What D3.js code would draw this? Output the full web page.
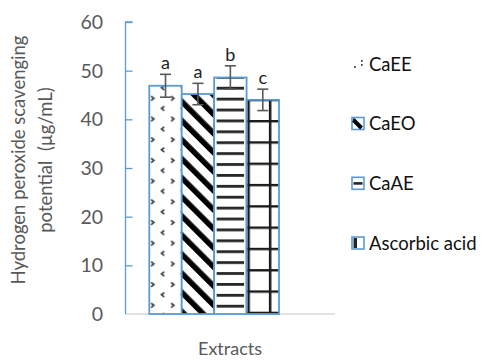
<!DOCTYPE html>
<html><head><meta charset="utf-8">
<script src="https://cdn.jsdelivr.net/npm/d3@7"></script>
<style>body{margin:0;background:#fff}svg{display:block}text{font-family:Lato,"Liberation Sans",sans-serif}</style>
</head><body><svg id="c" width="485" height="360"></svg>
<script>
const series = ["CaEE","CaEO","CaAE","Ascorbic acid"];
const values = [46.9, 45.2, 48.6, 44.0];
const errors = [2.35, 2.2, 2.4, 2.2];
const letters = ["a","a","b","c"];
const yTicks = [0,10,20,30,40,50,60];

const svg = d3.select("#c");
const blue = "#5B9BD5", gray = "#595959";
const y = d3.scaleLinear().domain([0,60]).range([314,22]);
const x = d3.scaleBand().domain(series).range([149.3,279]).padding(0);
const bw = x.bandwidth();

const defs = svg.append("defs");
// pattern 1: scattered chevrons
const p1 = defs.append("pattern").attr("id","p0").attr("patternUnits","userSpaceOnUse")
  .attr("x", x(series[0])).attr("y", 93.3-10.35).attr("width",20).attr("height",20.7);
p1.append("path").attr("d","M1.8,13.2 l2.8,2.2 l-2.8,2.2").attr("fill","none").attr("stroke","#333").attr("stroke-width",1.6);
p1.append("path").attr("d","M15,2.6 l-2.8,2.2 l2.8,2.2").attr("fill","none").attr("stroke","#333").attr("stroke-width",1.6);
// pattern 2: thick diagonal stripes (down-right)
const p2 = defs.append("pattern").attr("id","p1").attr("patternUnits","userSpaceOnUse")
  .attr("width",13.5).attr("height",13.5).attr("patternTransform","rotate(-45)");
p2.append("rect").attr("x",0).attr("y",0).attr("width",5.5).attr("height",13.5).attr("fill","#000");
// pattern 3: horizontal lines
const p3 = defs.append("pattern").attr("id","p2").attr("patternUnits","userSpaceOnUse")
  .attr("x",0).attr("y",88.3-1.5).attr("width",10).attr("height",10.9);
p3.append("rect").attr("x",0).attr("y",0).attr("width",10).attr("height",2.8).attr("fill","#262626");
// pattern 4: grid
const p4 = defs.append("pattern").attr("id","p3").attr("patternUnits","userSpaceOnUse")
  .attr("x", x(series[3])+0.8).attr("y",100+20).attr("width",21.5).attr("height",21.3);
p4.append("rect").attr("x",0).attr("y",0).attr("width",2.5).attr("height",21.3).attr("fill","#1a1a1a");
p4.append("rect").attr("x",0).attr("y",0).attr("width",21.5).attr("height",2.4).attr("fill","#1a1a1a");

// axes
svg.append("line").attr("x1",125).attr("x2",335).attr("y1",y(0)).attr("y2",y(0)).attr("stroke","#d9d9d9").attr("stroke-width",1.5);
const yAxis = d3.axisRight(y).tickValues(yTicks).tickSize(7).tickFormat("");
const ga = svg.append("g").attr("transform","translate(125.5,0)").call(yAxis);
ga.select(".domain").attr("stroke",blue).attr("stroke-width",1.3).attr("d",`M7,${y(60)}H0V${y(0)}`);
ga.selectAll(".tick line").attr("stroke",blue).attr("stroke-width",1.3);
ga.selectAll(".tick").filter(d=>d===0).select("line").remove();
svg.append("g").selectAll("text").data(yTicks).join("text")
  .attr("x",103).attr("y",d=>y(d)).attr("dy","0.36em").attr("text-anchor","end")
  .attr("fill",gray).attr("font-size",19.5).text(d=>d);

// bars
const bars = svg.append("g");
series.forEach((s,i)=>{
  const x0 = x(s), top = y(values[i]), h = y(0)-top;
  bars.append("rect").attr("x",x0).attr("y",top).attr("width",bw).attr("height",h).attr("fill","#fff");
  const inset = i===2 ? 2.5 : 0;
  bars.append("rect").attr("x",x0+inset).attr("y",top).attr("width",bw-2*inset).attr("height",h).attr("fill",`url(#p${i})`);
  bars.append("rect").attr("x",x0).attr("y",top).attr("width",bw).attr("height",h).attr("fill","none").attr("stroke",blue).attr("stroke-width",1.8);
});
// error bars
const eb = svg.append("g").attr("stroke",gray).attr("stroke-width",1.6);
series.forEach((s,i)=>{
  const cx = x(s)+bw/2, t=y(values[i]+errors[i]), b=y(values[i]-errors[i]);
  eb.append("line").attr("x1",cx).attr("x2",cx).attr("y1",t).attr("y2",b);
  eb.append("line").attr("x1",cx-5.5).attr("x2",cx+5.5).attr("y1",t).attr("y2",t);
  eb.append("line").attr("x1",cx-5.5).attr("x2",cx+5.5).attr("y1",b).attr("y2",b);
});
svg.append("g").selectAll("text").data(series).join("text")
  .attr("x",d=>x(d)+bw/2).attr("y",(d,i)=>y(values[i]+errors[i])-5)
  .attr("text-anchor","middle").attr("fill","#222").attr("font-size",18).text((d,i)=>letters[i]);

// legend
const ly = [64, 123.5, 183.3, 243];
const lg = svg.append("g");
series.forEach((s,i)=>{
  const mx=352, my=ly[i]-6, ms=12;
  if(i===0){
    lg.append("circle").attr("cx",mx+3).attr("cy",my+9).attr("r",1).attr("fill","#333");
    lg.append("rect").attr("x",mx+9).attr("y",my+2).attr("width",1.6).attr("height",1.8).attr("fill","#333");
    lg.append("rect").attr("x",mx+9).attr("y",my+6).attr("width",1.6).attr("height",1.8).attr("fill","#333");
  } else {
    lg.append("rect").attr("x",mx).attr("y",my).attr("width",ms).attr("height",ms).attr("fill","#fff").attr("stroke",blue).attr("stroke-width",1.6);
    if(i===1){
      lg.append("path").attr("d",`M${mx+1},${my+1}h2l-2,2z`).attr("fill","#000");
      lg.append("path").attr("d",`M${mx+1.5},${my+2.5} L${mx+9.5},${my+10.5}`).attr("stroke","#000").attr("stroke-width",4);
    } else if(i===2){
      lg.append("rect").attr("x",mx+1.5).attr("y",my+4.8).attr("width",ms-3).attr("height",2.6).attr("fill","#262626");
    } else {
      lg.append("rect").attr("x",mx+1.5).attr("y",my+1).attr("width",3.5).attr("height",ms-2).attr("fill","#262626");
    }
  }
  lg.append("text").attr("x",369).attr("y",ly[i]).attr("dy","0.36em").attr("fill","#111").attr("font-size",18.5).text(s);
});

// titles
svg.append("text").attr("x",230).attr("y",348.5).attr("dy","0.36em").attr("text-anchor","middle").attr("fill",gray).attr("font-size",18).text("Extracts");
const yt = svg.append("text").attr("transform","translate(18,160) rotate(-90)").attr("text-anchor","middle").attr("fill",gray).attr("font-size",18.5);
yt.append("tspan").attr("x",0).attr("dy","0.36em").text("Hydrogen peroxide scavenging");
yt.append("tspan").attr("x",0).attr("dy",27).style("white-space","pre").text("potential  (µg/mL)");
</script></body></html>
